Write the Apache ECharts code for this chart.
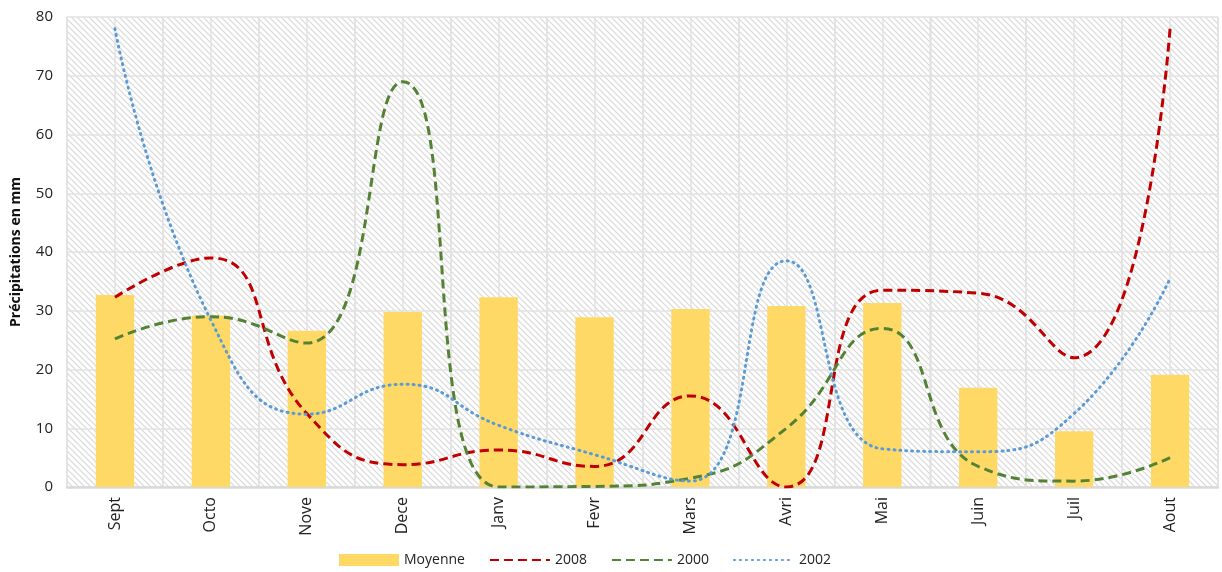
<!DOCTYPE html>
<html><head><meta charset="utf-8">
<script src="https://cdn.jsdelivr.net/npm/echarts@6/dist/echarts.min.js"></script>
<style>html,body{margin:0;padding:0;background:#fff}#c{width:1222px;height:572px}</style>
</head><body><div id="c"></div>
<script>
const categories = ['Sept','Octo','Nove','Dece','Janv','Fevr','Mars','Avri','Mai','Juin','Juil','Aout'];
const moyenne = [32.7, 29.2, 26.6, 29.8, 32.3, 28.9, 30.3, 30.8, 31.3, 16.9, 9.5, 19.1];
const s2008 = [32.3, 39, 12.5, 3.8, 6.3, 3.5, 15.5, 0, 33.5, 33, 22, 78];
const s2000 = [25.2, 29, 24.5, 69, 0, 0.1, 1.5, 10, 27, 3.5, 1, 5];
const s2002 = [78, 28.4, 12.4, 17.5, 10.5, 5.5, 1, 38.5, 6.5, 6, 12.5, 35.5];
const yTicks = [0,10,20,30,40,50,60,70,80];
const halfCats = categories.flatMap(c => [c + '-a', c + '-b']);

const FONT = '"Open Sans", "Noto Sans", sans-serif';
function hatch(){
  const s = 6, cv = document.createElement('canvas');
  cv.width = s; cv.height = s;
  const g = cv.getContext('2d');
  g.fillStyle = '#fff'; g.fillRect(0,0,s,s);
  g.strokeStyle = '#d8d8d8'; g.lineWidth = 1.2;
  g.beginPath();
  g.moveTo(-1,-1); g.lineTo(s+1,s+1);
  g.moveTo(-1,s-1); g.lineTo(1,s+1);
  g.moveTo(s-1,-1); g.lineTo(s+1,1);
  g.stroke();
  return {image: cv, repeat: 'repeat'};
}
const lineLegend = name => ({name, itemStyle: {opacity: 0}});
const chart = echarts.init(document.getElementById('c'));
chart.setOption({
  animation: false,
  grid: {left: 67, right: 4, top: 17, bottom: 85, show: true, backgroundColor: hatch(), borderWidth: 0},
  legend: {
    top: 553, left: 339, itemWidth: 60, itemHeight: 12, itemGap: 24, padding: 0,
    textStyle: {fontFamily: FONT, fontSize: 14, color: '#222'},
    data: [{name: 'Moyenne', icon: 'rect'}, lineLegend('2008'), lineLegend('2000'), lineLegend('2002')]
  },
  xAxis: [{
    type: 'category', data: categories, boundaryGap: true,
    axisLine: {lineStyle: {color: '#d9d9d9', width: 2.5}},
    axisTick: {show: false},
    axisLabel: {rotate: 90, fontFamily: FONT, fontSize: 16, color: '#222', margin: 10},
    splitLine: {show: true, interval: 0, lineStyle: {color: '#e2e2e2', width: 1.5}}
  },{
    type: 'category', data: halfCats, boundaryGap: true, position: 'bottom',
    axisLine: {show: false}, axisTick: {show: false}, axisLabel: {show: false},
    splitLine: {show: true, interval: 0, lineStyle: {color: '#e2e2e2', width: 1.5}}
  }],
  yAxis: {
    type: 'value', min: 0, max: 80, interval: 10,
    name: 'Précipitations en mm', nameLocation: 'middle', nameGap: 44, nameRotate: 90,
    nameTextStyle: {fontFamily: FONT, fontSize: 14, fontWeight: 'bold', color: '#111'},
    axisLine: {show: false}, axisTick: {show: false},
    axisLabel: {fontFamily: FONT, fontSize: 15, color: '#222', margin: 14,
      formatter: v => yTicks.includes(v) ? String(v) : ''},
    splitLine: {lineStyle: {color: '#e2e2e2', width: 1.5}}
  },
  series: [
    {name: 'Moyenne', type: 'bar', data: moyenne, barWidth: '40%', xAxisIndex: 0,
     itemStyle: {color: '#FFD966'}},
    {name: '2008', type: 'line', data: s2008, smooth: 0.5, symbol: 'none', clip: true, xAxisIndex: 0,
     lineStyle: {color: '#C00000', width: 3, type: [9,5]}, itemStyle: {color: '#C00000'}},
    {name: '2000', type: 'line', data: s2000, smooth: 0.5, symbol: 'none', clip: true, xAxisIndex: 0,
     lineStyle: {color: '#548235', width: 3, type: [9,5]}, itemStyle: {color: '#548235'}},
    {name: '2002', type: 'line', data: s2002, smooth: 0.5, symbol: 'none', clip: true, xAxisIndex: 0,
     lineStyle: {color: '#5B9BD5', width: 3, type: [1,5], cap: 'round'}, itemStyle: {color: '#5B9BD5'}}
  ]
});
</script></body></html>
